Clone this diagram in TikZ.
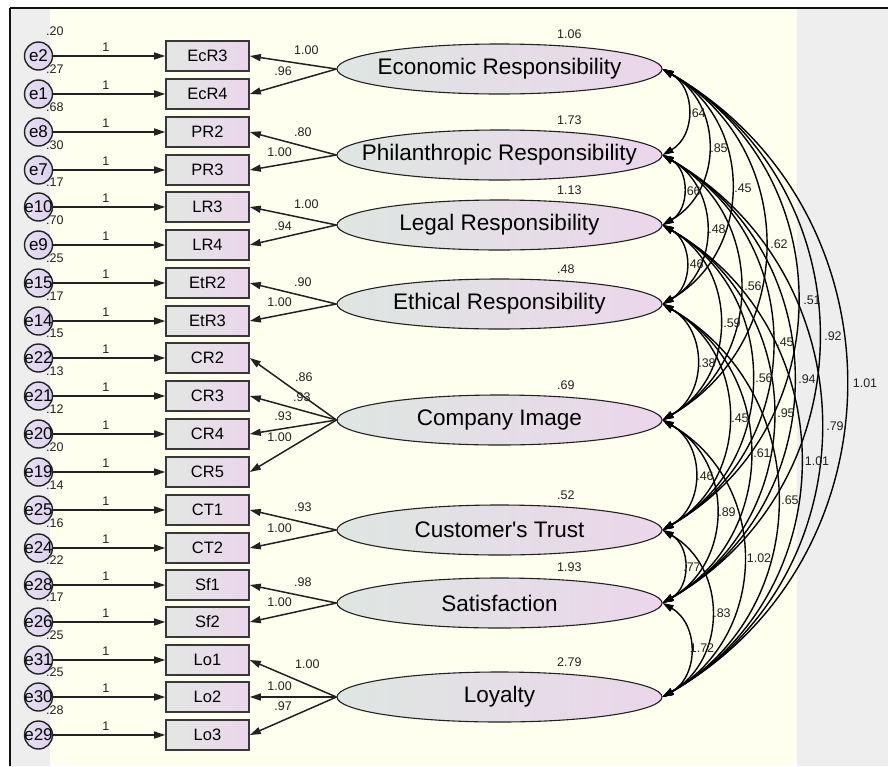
\documentclass[tikz,border=0pt]{standalone}
\usepackage{fontspec}
\setmainfont{Liberation Sans}[Ligatures=TeXOff]
\usepackage{xcolor}
\usetikzlibrary{
    shapes.geometric,
    arrows.meta,
    positioning
}
\definecolor{frame}{HTML}{111111}
\definecolor{canvas}{HTML}{FFFFF0}
\definecolor{margin}{HTML}{EEEEEF}
\definecolor{greenish}{HTML}{DEE6E1}
\definecolor{pinkish}{HTML}{EBD6EB}
\definecolor{lilac}{HTML}{DCD1EE}
\definecolor{ink}{HTML}{222222}
\tikzset{
    % Latent variable style
    latent/.style={
        ellipse,
        minimum width=325pt,
        minimum height=50pt,
        inner sep=0pt,
        draw=ink,
        line width=1.1pt,
        left color=greenish,
        right color=pinkish,
        font=\fontsize{22.5}{24}\selectfont
    },
    % Observed indicator style
    indicator/.style={
        rectangle,
        minimum width=83pt,
        minimum height=30pt,
        inner sep=0pt,
        draw=ink!90,
        line width=1.6pt,
        left color=greenish!85!gray!60,
        right color=pinkish,
        font=\fontsize{16.5}{18}\selectfont
    },
    % Error term style
    errterm/.style={
        circle,
        minimum size=28pt,
        inner sep=0pt,
        draw=ink,
        line width=1.4pt,
        left color=lilac!70!white,
        right color=lilac,
        font=\fontsize{17}{18}\selectfont
    },
    % Arrow styles
    regpath/.style={
        -{Triangle[length=11pt, width=7pt]},
        line width=1.5pt,
        draw=ink
    },
    covpath/.style={
        {Triangle[length=11pt, width=7pt]}-{Triangle[length=11pt, width=7pt]},
        line width=1.4pt,
        draw=black,
        bend left=60,
        looseness=1.15
    },
    % Estimate label style
    estimate/.style={
        font=\fontsize{12.5}{14}\selectfont,
        text=ink,
        inner sep=0pt
    }
}

\begin{document}
\begin{tikzpicture}[x=1pt, y=-1pt]

    % Canvas
    \useasboundingbox (0,0) rectangle (888,766);
    \fill[white] (0,0) rectangle (888,766);
    \fill[margin] (10,8) rectangle (50,766);
    \fill[canvas] (50,8) rectangle (797,766);
    \fill[margin] (797,8) rectangle (888,766);
    \draw[frame, line width=1.5pt] (10,766) -- (10,8);
    \draw[frame, line width=2.5pt] (10,8) -- (888,8);

    % Latent variables
    \node[latent] (econ) at (499.5,69) {\makebox[0pt]{Economic Responsibility}};
    \node[latent] (phil) at (499.5,155) {\makebox[0pt]{Philanthropic Responsibility}};
    \node[latent] (legal) at (499.5,225) {\makebox[0pt]{Legal Responsibility}};
    \node[latent] (ethic) at (499.5,304) {\makebox[0pt]{Ethical Responsibility}};
    \node[latent] (image) at (499.5,420) {\makebox[0pt]{Company Image}};
    \node[latent] (trust) at (499.5,530) {\makebox[0pt]{Customer's Trust}};
    \node[latent] (satis) at (499.5,603) {\makebox[0pt]{Satisfaction}};
    \node[latent] (loyal) at (499.5,697) {\makebox[0pt]{Loyalty}};

    % Latent variances
    \node[estimate, anchor=west] at (557,34) {1.06};
    \node[estimate, anchor=west] at (557,120) {1.73};
    \node[estimate, anchor=west] at (557,190) {1.13};
    \node[estimate, anchor=west] at (557,269) {.48};
    \node[estimate, anchor=west] at (557,385) {.69};
    \node[estimate, anchor=west] at (557,495) {.52};
    \node[estimate, anchor=west] at (557,567) {1.93};
    \node[estimate, anchor=west] at (557,662) {2.79};

    % Indicators
    \node[indicator] (ecr3) at (207.5,56) {EcR3};
    \node[indicator] (ecr4) at (207.5,94) {EcR4};
    \node[indicator] (pr2) at (207.5,132) {PR2};
    \node[indicator] (pr3) at (207.5,170) {PR3};
    \node[indicator] (lr3) at (207.5,207) {LR3};
    \node[indicator] (lr4) at (207.5,245) {LR4};
    \node[indicator] (etr2) at (207.5,283) {EtR2};
    \node[indicator] (etr3) at (207.5,321) {EtR3};
    \node[indicator] (cr2) at (207.5,358) {CR2};
    \node[indicator] (cr3) at (207.5,396) {CR3};
    \node[indicator] (cr4) at (207.5,434) {CR4};
    \node[indicator] (cr5) at (207.5,472) {CR5};
    \node[indicator] (ct1) at (207.5,510) {CT1};
    \node[indicator] (ct2) at (207.5,548) {CT2};
    \node[indicator] (sf1) at (207.5,585) {Sf1};
    \node[indicator] (sf2) at (207.5,622) {Sf2};
    \node[indicator] (lo1) at (207.5,660) {Lo1};
    \node[indicator] (lo2) at (207.5,697) {Lo2};
    \node[indicator] (lo3) at (207.5,735) {Lo3};

    % Error terms
    \node[errterm] (e2) at (38.5,56) {\makebox[0pt]{e2}};
    \node[errterm] (e1) at (38.5,94) {\makebox[0pt]{e1}};
    \node[errterm] (e8) at (38.5,132) {\makebox[0pt]{e8}};
    \node[errterm] (e7) at (38.5,170) {\makebox[0pt]{e7}};
    \node[errterm] (e10) at (38.5,207) {\makebox[0pt]{e10}};
    \node[errterm] (e9) at (38.5,245) {\makebox[0pt]{e9}};
    \node[errterm] (e15) at (38.5,283) {\makebox[0pt]{e15}};
    \node[errterm] (e14) at (38.5,321) {\makebox[0pt]{e14}};
    \node[errterm] (e22) at (38.5,358) {\makebox[0pt]{e22}};
    \node[errterm] (e21) at (38.5,396) {\makebox[0pt]{e21}};
    \node[errterm] (e20) at (38.5,434) {\makebox[0pt]{e20}};
    \node[errterm] (e19) at (38.5,472) {\makebox[0pt]{e19}};
    \node[errterm] (e25) at (38.5,510) {\makebox[0pt]{e25}};
    \node[errterm] (e24) at (38.5,548) {\makebox[0pt]{e24}};
    \node[errterm] (e28) at (38.5,585) {\makebox[0pt]{e28}};
    \node[errterm] (e26) at (38.5,622) {\makebox[0pt]{e26}};
    \node[errterm] (e31) at (38.5,660) {\makebox[0pt]{e31}};
    \node[errterm] (e30) at (38.5,697) {\makebox[0pt]{e30}};
    \node[errterm] (e29) at (38.5,735) {\makebox[0pt]{e29}};

    % Error variances
    \node[estimate, anchor=west] at (46,31) {.20};
    \node[estimate, anchor=west] at (46,69) {.27};
    \node[estimate, anchor=west] at (46,107) {.68};
    \node[estimate, anchor=west] at (46,145) {.30};
    \node[estimate, anchor=west] at (46,182) {.17};
    \node[estimate, anchor=west] at (46,220) {.70};
    \node[estimate, anchor=west] at (46,258) {.25};
    \node[estimate, anchor=west] at (46,296) {.17};
    \node[estimate, anchor=west] at (46,333) {.15};
    \node[estimate, anchor=west] at (46,371) {.13};
    \node[estimate, anchor=west] at (46,409) {.12};
    \node[estimate, anchor=west] at (46,447) {.20};
    \node[estimate, anchor=west] at (46,485) {.14};
    \node[estimate, anchor=west] at (46,523) {.16};
    \node[estimate, anchor=west] at (46,560) {.22};
    \node[estimate, anchor=west] at (46,597) {.17};
    \node[estimate, anchor=west] at (46,635) {.25};
    \node[estimate, anchor=west] at (46,672) {.25};
    \node[estimate, anchor=west] at (46,710) {.28};

    % Error paths
    \draw[regpath] (e2) -- node[estimate, pos=.47, above=4pt] {1} (ecr3);
    \draw[regpath] (e1) -- node[estimate, pos=.47, above=4pt] {1} (ecr4);
    \draw[regpath] (e8) -- node[estimate, pos=.47, above=4pt] {1} (pr2);
    \draw[regpath] (e7) -- node[estimate, pos=.47, above=4pt] {1} (pr3);
    \draw[regpath] (e10) -- node[estimate, pos=.47, above=4pt] {1} (lr3);
    \draw[regpath] (e9) -- node[estimate, pos=.47, above=4pt] {1} (lr4);
    \draw[regpath] (e15) -- node[estimate, pos=.47, above=4pt] {1} (etr2);
    \draw[regpath] (e14) -- node[estimate, pos=.47, above=4pt] {1} (etr3);
    \draw[regpath] (e22) -- node[estimate, pos=.47, above=4pt] {1} (cr2);
    \draw[regpath] (e21) -- node[estimate, pos=.47, above=4pt] {1} (cr3);
    \draw[regpath] (e20) -- node[estimate, pos=.47, above=4pt] {1} (cr4);
    \draw[regpath] (e19) -- node[estimate, pos=.47, above=4pt] {1} (cr5);
    \draw[regpath] (e25) -- node[estimate, pos=.47, above=4pt] {1} (ct1);
    \draw[regpath] (e24) -- node[estimate, pos=.47, above=4pt] {1} (ct2);
    \draw[regpath] (e28) -- node[estimate, pos=.47, above=4pt] {1} (sf1);
    \draw[regpath] (e26) -- node[estimate, pos=.47, above=4pt] {1} (sf2);
    \draw[regpath] (e31) -- node[estimate, pos=.47, above=4pt] {1} (lo1);
    \draw[regpath] (e30) -- node[estimate, pos=.47, above=4pt] {1} (lo2);
    \draw[regpath] (e29) -- node[estimate, pos=.47, above=4pt] {1} (lo3);

    % Factor loadings
    \draw[regpath] (econ.west) -- (ecr3.east);
    \draw[regpath] (econ.west) -- (ecr4.east);
    \draw[regpath] (phil.west) -- (pr2.east);
    \draw[regpath] (phil.west) -- (pr3.east);
    \draw[regpath] (legal.west) -- (lr3.east);
    \draw[regpath] (legal.west) -- (lr4.east);
    \draw[regpath] (ethic.west) -- (etr2.east);
    \draw[regpath] (ethic.west) -- (etr3.east);
    \draw[regpath] (image.west) -- (cr2.east);
    \draw[regpath] (image.west) -- (cr3.east);
    \draw[regpath] (image.west) -- (cr4.east);
    \draw[regpath] (image.west) -- (cr5.east);
    \draw[regpath] (trust.west) -- (ct1.east);
    \draw[regpath] (trust.west) -- (ct2.east);
    \draw[regpath] (satis.west) -- (sf1.east);
    \draw[regpath] (satis.west) -- (sf2.east);
    \draw[regpath] (loyal.west) -- (lo1.east);
    \draw[regpath] (loyal.west) -- (lo2.east);
    \draw[regpath] (loyal.west) -- (lo3.east);

    % Loading estimates
    \node[estimate, anchor=west] at (294,50) {1.00};
    \node[estimate, anchor=east] at (292,71) {.96};
    \node[estimate, anchor=west] at (294,132) {.80};
    \node[estimate, anchor=east] at (292,152) {1.00};
    \node[estimate, anchor=west] at (294,204) {1.00};
    \node[estimate, anchor=east] at (292,226) {.94};
    \node[estimate, anchor=west] at (294,282) {.90};
    \node[estimate, anchor=east] at (292,302) {1.00};
    \node[estimate, anchor=west] at (295,377) {.86};
    \node[estimate, anchor=west] at (293,397) {.93};
    \node[estimate, anchor=east] at (292,416) {.93};
    \node[estimate, anchor=east] at (292,437) {1.00};
    \node[estimate, anchor=west] at (294,507) {.93};
    \node[estimate, anchor=east] at (292,528) {1.00};
    \node[estimate, anchor=west] at (294,582) {.98};
    \node[estimate, anchor=east] at (292,602) {1.00};
    \node[estimate, anchor=west] at (295,664) {1.00};
    \node[estimate, anchor=east] at (292,686) {1.00};
    \node[estimate, anchor=east] at (292,706) {.97};

    % Covariances
    \draw[covpath] (econ.east) to (phil.east);
    \draw[covpath] (econ.east) to (legal.east);
    \draw[covpath] (econ.east) to (ethic.east);
    \draw[covpath] (econ.east) to (image.east);
    \draw[covpath] (econ.east) to (trust.east);
    \draw[covpath] (econ.east) to (satis.east);
    \draw[covpath] (econ.east) to (loyal.east);
    \draw[covpath] (phil.east) to (legal.east);
    \draw[covpath] (phil.east) to (ethic.east);
    \draw[covpath] (phil.east) to (image.east);
    \draw[covpath] (phil.east) to (trust.east);
    \draw[covpath] (phil.east) to (satis.east);
    \draw[covpath] (phil.east) to (loyal.east);
    \draw[covpath] (legal.east) to (ethic.east);
    \draw[covpath] (legal.east) to (image.east);
    \draw[covpath] (legal.east) to (trust.east);
    \draw[covpath] (legal.east) to (satis.east);
    \draw[covpath] (legal.east) to (loyal.east);
    \draw[covpath] (ethic.east) to (image.east);
    \draw[covpath] (ethic.east) to (trust.east);
    \draw[covpath] (ethic.east) to (satis.east);
    \draw[covpath] (ethic.east) to (loyal.east);
    \draw[covpath] (image.east) to (trust.east);
    \draw[covpath] (image.east) to (satis.east);
    \draw[covpath] (image.east) to (loyal.east);
    \draw[covpath] (trust.east) to (satis.east);
    \draw[covpath] (trust.east) to (loyal.east);
    \draw[covpath] (satis.east) to (loyal.east);

    % Covariance estimates
    \node[estimate] at (697,113) {.64};
    \node[estimate] at (719,148) {.85};
    \node[estimate] at (743,188) {.45};
    \node[estimate] at (779,244) {.62};
    \node[estimate] at (812,300) {.51};
    \node[estimate] at (833,336) {.92};
    \node[estimate] at (865,383) {1.01};
    \node[estimate] at (692,191) {.66};
    \node[estimate] at (717,229) {.48};
    \node[estimate] at (753,286) {.56};
    \node[estimate] at (785,342) {.45};
    \node[estimate] at (807,379) {.94};
    \node[estimate] at (835,426) {.79};
    \node[estimate] at (695,264) {.46};
    \node[estimate] at (732,323) {.59};
    \node[estimate] at (764,378) {.56};
    \node[estimate] at (786,413) {.95};
    \node[estimate] at (817,461) {1.01};
    \node[estimate] at (707,363) {.38};
    \node[estimate] at (740,418) {.45};
    \node[estimate] at (762,453) {.61};
    \node[estimate] at (790,500) {.65};
    \node[estimate] at (705,476) {.46};
    \node[estimate] at (727,512) {.89};
    \node[estimate] at (759,558) {1.02};
    \node[estimate] at (692,567) {.77};
    \node[estimate] at (722,613) {.83};
    \node[estimate] at (702,648) {1.72};

\end{tikzpicture}
\end{document}
